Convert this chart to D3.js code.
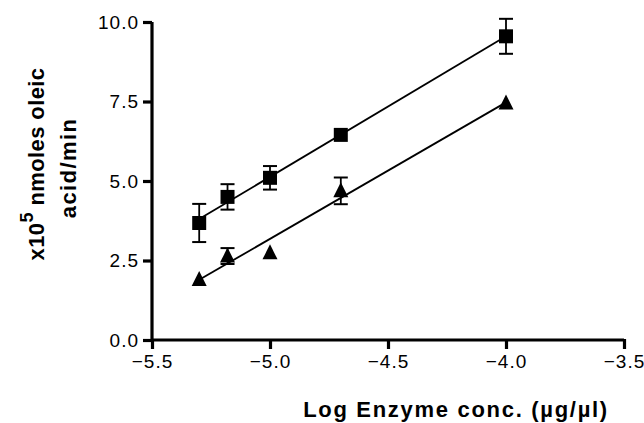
<!DOCTYPE html>
<html>
<head>
<meta charset="utf-8">
<script src="https://cdn.jsdelivr.net/npm/d3@7"></script>
<style>
  body { margin: 0; background: #fff; }
  svg { display: block; font-family: "Liberation Sans", Arial, sans-serif; }
</style>
</head>
<body>
<div id="chart"></div>
<script>
// log enzyme concentration (x) for both series
var logConc = [-5.3, -5.18, -5.0, -4.7, -4.0];
// squares
var squareMean = [3.68, 4.5, 5.1, 6.45, 9.55];
var squareErr  = [0.6, 0.4, 0.37, 0, 0.55];
// triangles
var triMean = [1.9, 2.64, 2.74, 4.69, 7.45];
var triErr  = [0, 0.25, 0, 0.42, 0];

var xTicks = [-5.5, -5.0, -4.5, -4.0, -3.5];
var yTicks = [0, 2.5, 5.0, 7.5, 10.0];

var width = 644, height = 423;

var svg = d3.select("#chart").append("svg")
    .attr("width", width)
    .attr("height", height);

var x = d3.scaleLinear().domain([-5.5, -3.5]).range([152, 624]);
var y = d3.scaleLinear().domain([0, 10]).range([340, 22]);

// axes
var xAxis = svg.append("g")
    .attr("transform", "translate(0," + y(0) + ")")
    .call(d3.axisBottom(x).tickValues(xTicks).tickSize(9).tickPadding(6)
        .tickFormat(d3.format(".1f")));
var yAxis = svg.append("g")
    .attr("transform", "translate(" + x(-5.5) + ",0)")
    .call(d3.axisLeft(y).tickValues(yTicks).tickSize(9).tickPadding(4)
        .tickFormat(d3.format(".1f")));

[xAxis, yAxis].forEach(function(g) {
    g.select(".domain").attr("stroke", "#000").attr("stroke-width", 3.2);
    g.selectAll(".tick line").attr("stroke", "#000").attr("stroke-width", 3.2);
    g.selectAll(".tick text")
        .attr("fill", "#000")
        .style("font-size", "19px")
        .style("letter-spacing", "1px")
        .style("font-family", "'Liberation Sans', Arial, sans-serif");
});
// the domain has no outer ticks in the original
xAxis.select(".domain").attr("d", "M" + x(-5.5) + ",0H" + x(-3.5));
yAxis.select(".domain").attr("d", "M0," + y(0) + "V" + y(10));
xAxis.selectAll(".tick line").attr("y1", -1);

// least squares fit for the lines
function fit(xs, ys) {
    var mx = d3.mean(xs), my = d3.mean(ys);
    var sxy = d3.sum(xs, function(v, i) { return (v - mx) * (ys[i] - my); });
    var sxx = d3.sum(xs, function(v) { return (v - mx) * (v - mx); });
    var b = sxy / sxx;
    return function(v) { return my + b * (v - mx); };
}

function drawSeries(means, errs, shape) {
    var f = fit(logConc, means);
    var ends = [d3.min(logConc), d3.max(logConc)];
    svg.append("line")
        .attr("x1", x(ends[0])).attr("y1", y(f(ends[0])))
        .attr("x2", x(ends[1])).attr("y2", y(f(ends[1])))
        .attr("stroke", "#000").attr("stroke-width", 1.8);

    var g = svg.append("g");
    logConc.forEach(function(c, i) {
        if (errs[i] > 0) {
            var cx = x(c), top = y(means[i] + errs[i]), bot = y(means[i] - errs[i]);
            g.append("line").attr("x1", cx).attr("x2", cx).attr("y1", top).attr("y2", bot)
                .attr("stroke", "#000").attr("stroke-width", 1.8);
            [top, bot].forEach(function(yy) {
                g.append("line").attr("x1", cx - 7).attr("x2", cx + 7).attr("y1", yy).attr("y2", yy)
                    .attr("stroke", "#000").attr("stroke-width", 2);
            });
        }
    });
    g.selectAll("path.marker")
        .data(means)
        .enter().append("path")
        .attr("class", "marker")
        .attr("transform", function(d, i) { return "translate(" + x(logConc[i]) + "," + y(d) + ")"; })
        .attr("d", shape)
        .attr("fill", "#000");
}

drawSeries(squareMean, squareErr, "M-7,-7H7V7H-7Z");
drawSeries(triMean, triErr, "M0,-8.5L7.5,6.5H-7.5Z");

// axis titles
svg.append("text")
    .attr("x", 456).attr("y", 417)
    .attr("text-anchor", "middle")
    .style("font-size", "22px").style("font-weight", "bold")
    .style("letter-spacing", "1.7px")
    .text("Log Enzyme conc. (\u00b5g/\u00b5l)");

var yt = svg.append("text")
    .attr("transform", "translate(44,164) rotate(-90)")
    .attr("text-anchor", "middle")
    .style("font-size", "22px").style("font-weight", "bold")
    .style("letter-spacing", "0.4px");
yt.append("tspan").text("x10");
yt.append("tspan").attr("dy", -11).style("font-size", "18px").text("5");
yt.append("tspan").attr("dy", 11).text(" nmoles oleic");

svg.append("text")
    .attr("transform", "translate(76,168) rotate(-90)")
    .attr("text-anchor", "middle")
    .style("font-size", "22px").style("font-weight", "bold")
    .style("letter-spacing", "1.4px")
    .text("acid/min");
</script>
</body>
</html>
